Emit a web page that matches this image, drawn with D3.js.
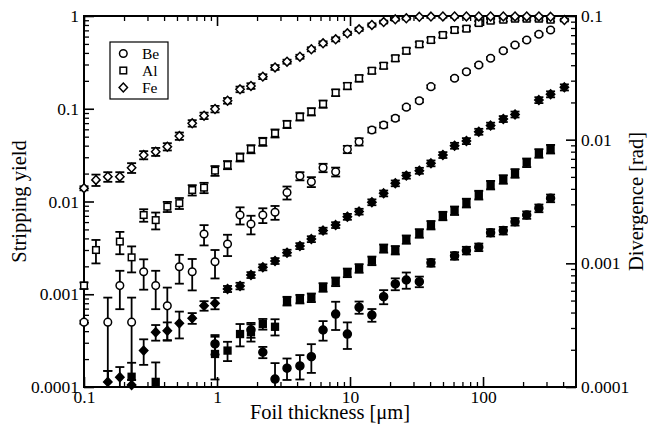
<!DOCTYPE html>
<html><head><meta charset="utf-8">
<script src="https://cdn.jsdelivr.net/npm/d3@7"></script>
<style>
html,body{margin:0;padding:0;background:#fff;}
svg text{font-family:"Liberation Serif","Times New Roman",serif;}
</style></head>
<body>
<svg id="chart" width="648" height="429"></svg>
<script>
// ---------- data ----------
const thickness = [0.1, 0.123, 0.151, 0.186, 0.228, 0.281, 0.346, 0.423, 0.521, 0.651, 0.799, 0.966, 1.2, 1.49, 1.8, 2.21, 2.73, 3.36, 4.2, 5.12, 6.27, 7.8, 9.55, 11.7, 14.6, 17.9, 21.9, 26.5, 33.2, 40.6, 49.9, 61.1, 75, 92.9, 114, 142, 174, 213, 263, 322, 409];

// stripping yield (left axis), open markers
const yieldBe = [0.0005, null, 0.0005, 0.00124, 0.0005, 0.00175, 0.00124, 0.00075, 0.00198, 0.00175, 0.00446, 0.00224, 0.00348, 0.00715, 0.00572, 0.00715, 0.00765, 0.0125, 0.0188, 0.0163, 0.0231, 0.0209, 0.0365, 0.0441, 0.059, 0.0668, 0.0789, 0.104, 0.122, 0.173, null, 0.213, 0.251, 0.296, 0.35, 0.422, 0.487, 0.551, 0.635, 0.706, null];
const yieldBeErr = [0.00002, null, 0.00042, 0.00055, 0.00042, 0.00063, 0.00055, 0.00043, 0.00068, 0.00065, 0.0011, 0.00076, 0.0009, 0.0015, 0.0013, 0.0013, 0.0013, 0.002, 0.0019, 0.002, 0.0024, 0.0023, 0.0033, 0.004, 0.0035, 0.004, 0.004, 0.0042, 0.0049, 0.0069, null, 0.0064, 0.0075, 0.0089, 0.0105, 0.0127, 0.0146, 0.0165, 0.019, 0.021, null];
const yieldAl = [0.00124, 0.0030, null, 0.0037, 0.0025, 0.00715, 0.0063, 0.0088, 0.0096, 0.0133, 0.0141, 0.0215, 0.0248, 0.030, 0.0368, 0.0442, 0.0544, 0.068, 0.082, 0.093, 0.1125, 0.149, 0.176, 0.213, 0.257, 0.291, 0.35, 0.422, 0.495, 0.551, 0.624, 0.706, 0.73, 0.84, 0.89, 0.912, 0.935, 0.935, 0.935, 0.912, null];
const yieldAlErr = [0.0001, 0.00085, null, 0.001, 0.00078, 0.0011, 0.0013, 0.0011, 0.0013, 0.0017, 0.0018, 0.0026, 0.0025, 0.003, 0.0037, 0.0044, 0.0054, 0.0061, 0.0074, 0.0084, 0.0101, 0.012, 0.014, 0.017, 0.018, 0.02, 0.0245, 0.0295, 0.03, 0.033, 0.037, 0.042, 0.04, 0.04, 0.04, 0.04, 0.04, 0.04, 0.04, 0.04, null];
const yieldFe = [0.0139, 0.0171, 0.0185, 0.0185, 0.0231, 0.0317, 0.0344, 0.039, 0.0508, 0.0697, 0.0841, 0.0994, 0.122, 0.162, 0.176, 0.222, 0.279, 0.322, 0.364, 0.438, 0.508, 0.561, 0.651, 0.719, 0.80, 0.861, 0.921, 0.945, 0.98, 0.985, 0.99, 0.99, 0.99, 0.99, 0.99, 0.99, 0.99, 0.99, 0.99, 0.98, 0.905];
const yieldFeErr = [0.0007, 0.0024, 0.0022, 0.0022, 0.0028, 0.0032, 0.0034, 0.0035, 0.0046, 0.0056, 0.0067, 0.008, 0.0085, 0.0113, 0.0123, 0.0133, 0.0167, 0.016, 0.018, 0.022, 0.025, 0.028, 0.026, 0.029, 0.032, 0.03, 0.03, 0.03, 0.03, 0.03, 0.03, 0.03, 0.03, 0.03, 0.03, 0.03, 0.03, 0.03, 0.03, 0.03, 0.03];

// divergence (right axis), filled markers
const divBe = [null, null, null, null, null, null, null, null, null, null, null, 0.000223, null, null, 0.00029, 0.000191, 0.000116, 0.000142, 0.000148, 0.000176, 0.000289, 0.000389, 0.000268, 0.000441, 0.000382, 0.000537, 0.000681, 0.000733, 0.000711, 0.00101, null, 0.00115, 0.00127, 0.00135, 0.00177, 0.00184, 0.00217, 0.00246, 0.00279, 0.00336, null];
const divBeErr = [null, null, null, null, null, null, null, null, null, null, null, 0.00004, null, null, 0.00004, 0.00002, 0.00004, 0.000028, 0.000033, 0.000046, 0.000052, 0.0001, 0.000065, 0.00005, 0.000045, 0.00007, 0.000075, 0.00011, 0.00007, 0.00007, null, 0.00008, 0.00009, 0.000095, 0.00012, 0.00013, 0.00015, 0.00017, 0.0002, 0.00024, null];
const divAl = [null, null, 0.00009, null, 0.000121, null, 0.00011, null, null, null, null, 0.000185, 0.000197, 0.000268, 0.000277, 0.000323, 0.000307, 0.000496, 0.000515, 0.000528, 0.00064, 0.000711, 0.00084, 0.000912, 0.00105, 0.00132, 0.00128, 0.00156, 0.00175, 0.00204, 0.00242, 0.00267, 0.00308, 0.00357, 0.0043, 0.00478, 0.00535, 0.00652, 0.00776, 0.0084, null];
const divAlErr = [null, null, 0.000045, null, 0.000036, null, 0.000048, null, null, null, null, 0.00007, 0.000035, 0.000055, 0.000044, 0.000032, 0.000046, 0.00004, 0.000041, 0.000042, 0.000051, 0.000057, 0.000067, 0.000073, 0.000084, 0.0001, 0.0001, 0.00012, 0.00014, 0.00016, 0.00019, 0.00021, 0.00025, 0.00029, 0.00034, 0.00038, 0.00043, 0.00052, 0.00062, 0.00067, null];
const divFe = [null, null, 0.00011, 0.00012, 0.000104, 0.000197, 0.000277, 0.000285, 0.000327, 0.00036, 0.000454, 0.000475, 0.000621, 0.000656, 0.000805, 0.000929, 0.001045, 0.00122, 0.00138, 0.00157, 0.00184, 0.00204, 0.00238, 0.00262, 0.00312, 0.00368, 0.00444, 0.00512, 0.00561, 0.00644, 0.00752, 0.00894, 0.00975, 0.0116, 0.013, 0.0147, 0.016, null, 0.0209, 0.0233, 0.0265];
const divFeErr = [null, null, 0.000025, 0.000025, 0.00001, 0.000046, 0.00004, 0.000048, 0.00008, 0.000036, 0.00004, 0.00005, 0.000035, 0.00004, 0.000044, 0.000051, 0.000057, 0.000067, 0.000076, 0.000086, 0.0001, 0.00011, 0.00013, 0.00014, 0.00017, 0.0002, 0.00024, 0.00028, 0.00031, 0.00035, 0.00041, 0.00049, 0.00054, 0.00064, 0.00072, 0.00081, 0.00088, null, 0.00115, 0.0013, 0.0015];

const xTickLabels = ["0.1", "1", "10", "100"];
const yLeftTickLabels = ["0.0001", "0.001", "0.01", "0.1", "1"];
const yRightTickLabels = ["0.0001", "0.001", "0.01", "0.1"];
const legendLabels = ["Be", "Al", "Fe"];

// ---------- chart ----------
const svg = d3.select("#chart");
const L = 84, R = 576, T = 16, B = 387;
const FS = "17.5px";
const TFS = "20.5px";
const LFS = "15.5px";

const x = d3.scaleLog().domain([0.1, 500]).range([L, R]);
const yL = d3.scaleLog().domain([1e-4, 1]).range([B, T]);
const yR = d3.scaleLog().domain([1e-4, 0.1]).range([B, T]);

function minors(domain) {
  const out = [];
  for (let e = -5; e <= 3; e++) {
    for (let k = 2; k <= 9; k++) {
      const v = k * Math.pow(10, e);
      if (v > domain[0] * 1.0001 && v < domain[1] * 0.9999) out.push(v);
    }
  }
  return out;
}
const xMaj = xTickLabels.map(Number);
const yLMaj = yLeftTickLabels.map(Number);
const yRMaj = yRightTickLabels.map(Number);

function styleAxis(g, big) {
  g.select(".domain").remove();
  g.selectAll("line").attr("stroke", "#000").attr("stroke-width", big ? 1.6 : 1.3);
  g.selectAll("text").attr("font-size", FS).attr("fill", "#000")
    .style("font-family", '"Liberation Serif", serif');
}

// bottom
svg.append("g").attr("transform", `translate(0,${B})`)
  .call(d3.axisBottom(x).tickValues(xMaj).tickSizeInner(-10).tickSizeOuter(0).tickPadding(4)
    .tickFormat((d, i) => xTickLabels[i]))
  .call(g => styleAxis(g, true));
svg.append("g").attr("transform", `translate(0,${B})`)
  .call(d3.axisBottom(x).tickValues(minors(x.domain())).tickSizeInner(-5).tickSizeOuter(0).tickFormat(""))
  .call(g => styleAxis(g, false));
// top
svg.append("g").attr("transform", `translate(0,${T})`)
  .call(d3.axisTop(x).tickValues(xMaj).tickSizeInner(-10).tickSizeOuter(0).tickFormat(""))
  .call(g => styleAxis(g, true));
svg.append("g").attr("transform", `translate(0,${T})`)
  .call(d3.axisTop(x).tickValues(minors(x.domain())).tickSizeInner(-5).tickSizeOuter(0).tickFormat(""))
  .call(g => styleAxis(g, false));
// left
svg.append("g").attr("transform", `translate(${L},0)`)
  .call(d3.axisLeft(yL).tickValues(yLMaj).tickSizeInner(-10).tickSizeOuter(0).tickPadding(5)
    .tickFormat((d, i) => yLeftTickLabels[i]))
  .call(g => styleAxis(g, true));
svg.append("g").attr("transform", `translate(${L},0)`)
  .call(d3.axisLeft(yL).tickValues(minors(yL.domain())).tickSizeInner(-5).tickSizeOuter(0).tickFormat(""))
  .call(g => styleAxis(g, false));
// right
svg.append("g").attr("transform", `translate(${R},0)`)
  .call(d3.axisRight(yR).tickValues(yRMaj).tickSizeInner(-10).tickSizeOuter(0).tickPadding(5)
    .tickFormat((d, i) => yRightTickLabels[i]))
  .call(g => styleAxis(g, true));
svg.append("g").attr("transform", `translate(${R},0)`)
  .call(d3.axisRight(yR).tickValues(minors(yR.domain())).tickSizeInner(-5).tickSizeOuter(0).tickFormat(""))
  .call(g => styleAxis(g, false));

// frame
svg.append("rect").attr("x", L).attr("y", T).attr("width", R - L).attr("height", B - T)
  .attr("fill", "none").attr("stroke", "#000").attr("stroke-width", 2);

// clip for error bars
svg.append("defs").append("clipPath").attr("id", "clip")
  .append("rect").attr("x", L - 10).attr("y", T).attr("width", R - L + 20).attr("height", B - T);

function drawMarker(g, type, cx, cy, filled) {
  const fill = filled ? "#000" : "#fff";
  const sw = 1.5;
  if (type === "circle") {
    g.append("circle").attr("cx", cx).attr("cy", cy).attr("r", filled ? 4 : 3.8)
      .attr("fill", fill).attr("stroke", "#000").attr("stroke-width", sw);
  } else if (type === "square") {
    const h = filled ? 3.4 : 3.3;
    g.append("rect").attr("x", cx - h).attr("y", cy - h).attr("width", 2 * h).attr("height", 2 * h)
      .attr("fill", fill).attr("stroke", "#000").attr("stroke-width", sw);
  } else {
    const h = 4.4;
    g.append("path").attr("d", `M${cx},${cy - h}L${cx + h * 0.95},${cy}L${cx},${cy + h}L${cx - h * 0.95},${cy}Z`)
      .attr("fill", fill).attr("stroke", "#000").attr("stroke-width", sw);
  }
}

const series = [
  { vals: yieldBe, errs: yieldBeErr, y: yL, type: "circle", filled: false },
  { vals: yieldAl, errs: yieldAlErr, y: yL, type: "square", filled: false },
  { vals: yieldFe, errs: yieldFeErr, y: yL, type: "diamond", filled: false },
  { vals: divBe, errs: divBeErr, y: yR, type: "circle", filled: true },
  { vals: divAl, errs: divAlErr, y: yR, type: "square", filled: true },
  { vals: divFe, errs: divFeErr, y: yR, type: "diamond", filled: true }
];

const errG = svg.append("g").attr("clip-path", "url(#clip)");
const capW = 4.5;
series.forEach(s => {
  s.vals.forEach((v, i) => {
    if (v == null) return;
    const e = s.errs[i] || 0;
    const cx = x(thickness[i]);
    const dmin = s.y.domain()[0] * 0.5;
    const lo = Math.max(v - e, dmin);
    const yTop = s.y(v + e), yBot = s.y(lo);
    errG.append("line").attr("x1", cx).attr("x2", cx).attr("y1", yTop).attr("y2", yBot)
      .attr("stroke", "#000").attr("stroke-width", 1.8);
    errG.append("line").attr("x1", cx - capW).attr("x2", cx + capW).attr("y1", yTop).attr("y2", yTop)
      .attr("stroke", "#000").attr("stroke-width", 1.8);
    if (v - e > dmin)
      errG.append("line").attr("x1", cx - capW).attr("x2", cx + capW).attr("y1", yBot).attr("y2", yBot)
        .attr("stroke", "#000").attr("stroke-width", 1.8);
  });
});
const mG = svg.append("g");
series.forEach(s => {
  s.vals.forEach((v, i) => {
    if (v == null) return;
    if (v < s.y.domain()[0]) return;
    drawMarker(mG, s.type, x(thickness[i]), s.y(v), s.filled);
  });
});

// legend
const lg = svg.append("g");
lg.append("rect").attr("x", 110).attr("y", 42).attr("width", 58).attr("height", 57)
  .attr("fill", "#fff").attr("stroke", "#000").attr("stroke-width", 1.2);
const legTypes = ["circle", "square", "diamond"];
legendLabels.forEach((lab, i) => {
  const cy = 53.5 + i * 17;
  drawMarker(lg, legTypes[i], 123.3, cy, false);
  lg.append("text").attr("x", 142).attr("y", cy + 5.5).attr("font-size", LFS).text(lab);
});

// axis titles
svg.append("text").attr("x", (L + R) / 2).attr("y", 419).attr("text-anchor", "middle")
  .attr("font-size", TFS).text("Foil thickness [μm]");
svg.append("text").attr("transform", `translate(26,${(T + B) / 2}) rotate(-90)`).attr("text-anchor", "middle")
  .attr("font-size", TFS).text("Stripping yield");
svg.append("text").attr("transform", `translate(643,${(T + B) / 2}) rotate(-90)`).attr("text-anchor", "middle")
  .attr("font-size", TFS).text("Divergence [rad]");
</script>
</body></html>
